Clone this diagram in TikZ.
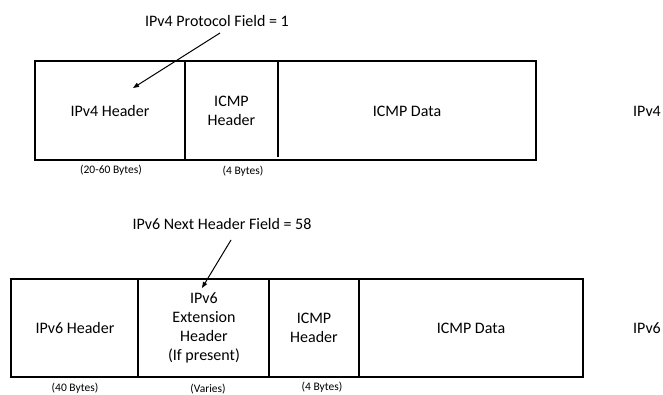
\documentclass[tikz,border=0pt]{standalone}
\usepackage{fontspec}
\setmainfont{Carlito}
\usetikzlibrary{arrows.meta}
\begin{document}
\begin{tikzpicture}[x=1pt,y=-1pt,
  boxline/.style={line width=2.6pt},
  celltext/.style={font=\fontsize{16}{19}\selectfont, align=center, inner sep=0pt},
  sizetext/.style={font=\fontsize{11.5}{13}\selectfont, inner sep=0pt},
  fieldarrow/.style={line width=1pt, -{Triangle[length=6pt,width=4.5pt]}}]
\useasboundingbox (0,0) rectangle (663,394);
\fill[white] (0,0) rectangle (663,394);

% ---------- IPv4 packet ----------
\draw[boxline] (35,61) rectangle (536,160);
\draw[boxline] (185,61) -- (185,160);
\draw[boxline] (278,61) -- (278,157);
\node[celltext] (v4hdr) at (110,111) {IPv4 Header};
\node[celltext] (v4icmph) at (231.5,111) {ICMP\\Header};
\node[celltext] (v4data) at (407,111) {ICMP Data};
\node[sizetext] (v4sz1) at (111,170) {(20-60 Bytes)};
\node[sizetext] (v4sz2) at (243,171) {(4 Bytes)};
\node[celltext, anchor=west] (v4side) at (633,111) {IPv4};
\node[celltext] (v4lbl) at (217,21) {IPv4 Protocol Field = 1};
\coordinate (v4s) at (220,33);
\coordinate (v4e) at (133,88);
\draw[fieldarrow] (v4s) -- (v4e);

% ---------- IPv6 packet ----------
\draw[boxline] (11,279) rectangle (583,377);
\draw[boxline] (138,279) -- (138,377);
\draw[boxline] (269,279) -- (269,377);
\draw[boxline] (359,279) -- (359,377);
\node[celltext] (v6hdr) at (75,328) {IPv6 Header};
\node[celltext] (v6ext) at (204,328) {IPv6\\Extension\\Header\\(If present)};
\node[celltext] (v6icmph) at (314,328) {ICMP\\Header};
\node[celltext] (v6data) at (471,328) {ICMP Data};
\node[sizetext] (v6sz1) at (75,388) {(40 Bytes)};
\node[sizetext] (v6sz2) at (208,389) {(Varies)};
\node[sizetext] (v6sz3) at (322,387) {(4 Bytes)};
\node[celltext, anchor=west] (v6side) at (633,328) {IPv6};
\node[celltext] (v6lbl) at (222,224) {IPv6 Next Header Field = 58};
\coordinate (v6s) at (231,240);
\coordinate (v6e) at (202,288);
\draw[fieldarrow] (v6s) -- (v6e);
\end{tikzpicture}
\end{document}
